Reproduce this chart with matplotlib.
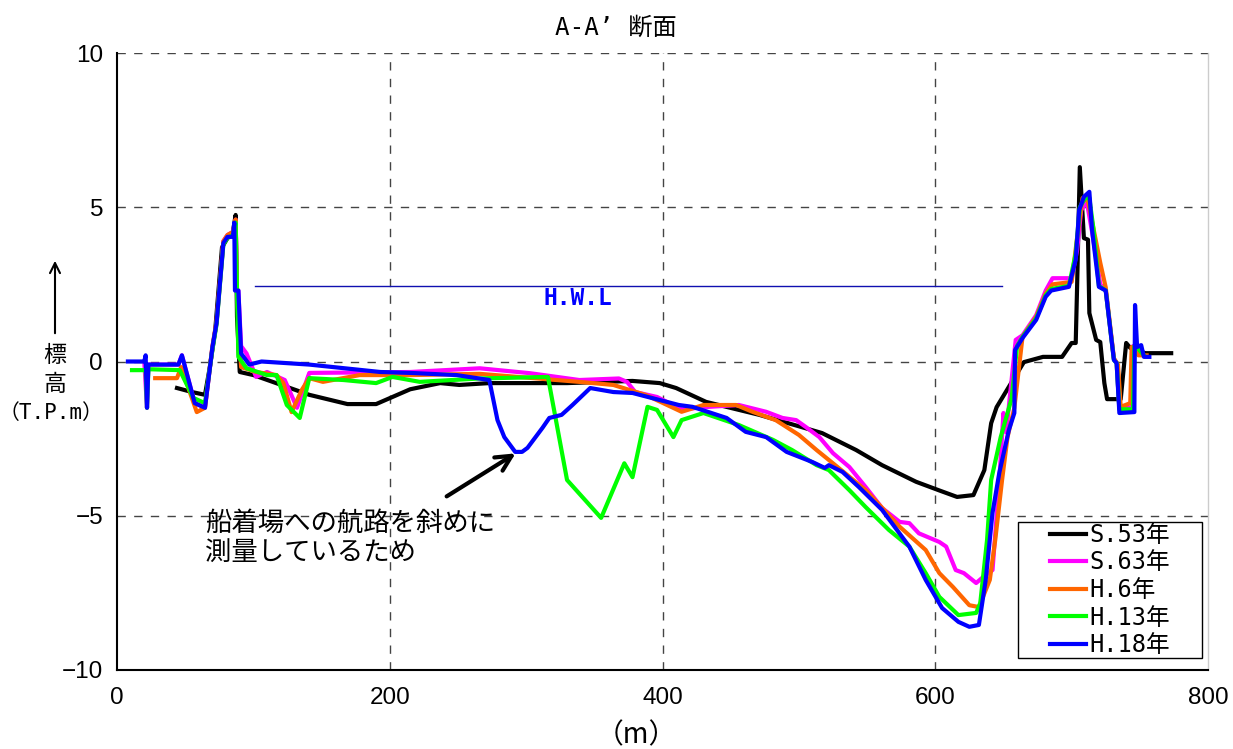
#!/usr/bin/env python3
# -*- coding: utf-8 -*-

import matplotlib
matplotlib.use("Agg")
import matplotlib.pyplot as plt
from matplotlib.patches import Rectangle, FancyArrowPatch

###############################################################################
# Data (distance [m], elevation [T.P.m])
###############################################################################

x_s53 = [44, 55, 64.5, 68, 72, 77, 81, 85, 87, 88, 90, 100, 141, 169, 190, 215, 237, 251, 273, 330,
         378, 398, 410, 432, 471, 500, 517, 542, 561, 586, 603, 616, 628, 636, 641, 645, 657, 665, 679, 693,
         700, 703, 704, 706, 709, 712, 713, 718, 721, 724, 726, 736, 740, 743, 754, 773]
y_s53 = [-0.86, -0.99, -1.08, -0.2, 1.0, 3.7, 4.0, 4.2, 4.75, 1.45, -0.34, -0.44, -1.08, -1.38, -1.38, -0.9, -0.7, -0.76, -0.7, -0.7,
         -0.63, -0.7, -0.86, -1.31, -1.73, -2.1, -2.32, -2.87, -3.36, -3.9, -4.18, -4.39, -4.33, -3.52, -2.0, -1.48, -0.6, -0.02, 0.15, 0.15,
         0.6, 0.6, 2.4, 6.3, 4.0, 3.95, 1.57, 0.7, 0.63, -0.7, -1.22, -1.22, 0.6, 0.44, 0.27, 0.27]

x_s63 = [20, 22, 23, 45, 47.6, 57, 64.5, 70, 73, 78, 81, 85, 87, 88, 89, 91, 95, 102, 110, 123,
         132, 141, 215, 266, 303, 339, 368, 374, 380, 396, 414, 434, 456, 476, 488, 498, 505, 515, 525, 537,
         549, 561, 574, 581, 588, 603, 608, 615, 621, 630, 635, 642, 647, 650, 652, 659, 664, 674, 681, 686,
         700, 704, 707, 711, 715, 721, 725, 731, 733, 735, 744, 745, 748, 753]
y_s63 = [0, -1.5, -0.1, -0.1, 0.2, -1.35, -1.5, 0.47, 1.25, 3.9, 4.1, 4.2, 4.6, 2.3, 2.3, 0.5, 0.26, -0.5, -0.34, -0.6,
         -1.5, -0.37, -0.34, -0.22, -0.38, -0.6, -0.55, -0.66, -0.99, -1.15, -1.55, -1.47, -1.41, -1.63, -1.83, -1.9, -2.12, -2.45, -2.97, -3.42,
         -4.07, -4.75, -5.2, -5.24, -5.57, -5.85, -6.0, -6.76, -6.86, -7.18, -6.99, -6.76, -3.84, -1.67, -2.3, 0.7, 0.85, 1.5, 2.3, 2.7,
         2.7, 3.6, 4.9, 5.2, 4.2, 2.5, 2.3, 0.1, -0.05, -1.5, -1.5, 0.5, 0.4, 0.2]

x_h6 = [28, 44, 47, 58.5, 64.5, 70, 73, 78, 81, 85, 87, 88, 91, 102, 117, 122, 128, 135.5, 141, 151,
        178, 215, 266, 339, 364, 388, 414, 430, 454, 466, 483, 500, 513, 525, 549, 574, 593, 603, 613, 625,
        632, 640, 644, 649, 653, 658, 664, 674, 681, 686, 700, 704, 708, 712, 721, 725, 731, 734, 736, 743,
        744, 749, 755]
y_h6 = [-0.54, -0.54, -0.18, -1.64, -1.5, 0.5, 1.3, 3.9, 4.1, 4.2, 4.6, 2.25, -0.18, -0.34, -0.44, -0.7, -1.64, -0.92, -0.54, -0.66,
        -0.44, -0.44, -0.4, -0.66, -0.76, -1.09, -1.63, -1.41, -1.41, -1.63, -1.9, -2.38, -2.87, -3.3, -4.17, -5.36, -6.11, -6.86, -7.31, -7.9,
        -7.96, -7.08, -5.78, -3.84, -2.45, -1.5, 0.8, 1.45, 2.2, 2.5, 2.58, 4.0, 5.3, 5.2, 3.2, 2.4, 0.1, -0.1, -1.47, -1.35,
        0.47, 0.2, 0.2]

x_h13 = [11, 21, 22, 23, 46, 56, 64.5, 70, 73, 78, 81, 85, 87, 88, 89, 95, 110, 117, 124.5, 134,
         141, 166, 190, 202, 222, 266, 316, 330, 355, 372, 378, 389, 396, 408, 414, 430, 456, 481, 495, 513,
         522, 537, 549, 566, 581, 593, 603, 617, 630, 633, 638, 641, 648, 656, 660, 664, 674, 681, 685, 698,
         703, 706, 710, 713, 716, 720, 725, 731, 733, 735, 745, 746, 748, 753]
y_h13 = [-0.28, -0.28, -1.5, -0.25, -0.28, -1.18, -1.35, 0.4, 1.2, 3.8, 4.0, 4.1, 4.5, 2.3, 0.15, -0.22, -0.44, -0.44, -1.41, -1.83,
         -0.54, -0.6, -0.7, -0.5, -0.66, -0.55, -0.5, -3.84, -5.07, -3.3, -3.75, -1.47, -1.57, -2.45, -1.9, -1.67, -2.06, -2.54, -2.87, -3.36,
         -3.52, -4.17, -4.72, -5.46, -6.0, -6.86, -7.63, -8.22, -8.15, -7.83, -5.78, -3.84, -2.45, -1.2, 0.5, 0.8, 1.4, 2.15, 2.35, 2.45,
         3.5, 5.0, 5.3, 5.3, 4.3, 2.45, 2.3, 0.05, -0.05, -1.55, -1.55, 0.5, 0.45, 0.2]

x_h18 = [8, 20, 21, 22, 23, 45, 47.6, 57, 64.5, 70, 73, 78, 81, 85, 86, 86.5, 89, 91, 97, 106,
         141, 193, 215, 249, 273, 279, 284, 292, 297, 301, 312, 317, 326, 334, 347, 364, 378, 398, 412, 422,
         447, 461, 476, 491, 510, 519, 522, 532, 544, 561, 581, 593, 605, 617, 625, 632, 637, 642, 647, 654,
         658, 658.5, 664, 674, 681, 685, 698, 703, 705.5, 709, 713, 715, 720, 725, 731, 733, 735, 746, 746.5, 748,
         751, 753, 757]
y_h18 = [0, 0, 0.2, -1.5, -0.1, -0.1, 0.2, -1.35, -1.5, 0.47, 1.25, 3.84, 4.04, 4.04, 4.5, 2.3, 2.3, 0.26, -0.1, 0.0,
         -0.1, -0.34, -0.37, -0.44, -0.6, -1.9, -2.45, -2.93, -2.93, -2.8, -2.15, -1.83, -1.73, -1.41, -0.86, -0.99, -1.02, -1.25, -1.41, -1.47,
         -1.83, -2.28, -2.45, -2.93, -3.26, -3.45, -3.36, -3.58, -4.07, -4.81, -6.0, -7.08, -7.99, -8.44, -8.6, -8.54, -7.08, -4.9, -3.6, -2.22,
         -1.67, 0.37, 0.76, 1.35, 2.1, 2.3, 2.42, 3.3, 4.9, 5.34, 5.5, 4.26, 2.42, 2.3, 0.05, -0.05, -1.67, -1.64, 1.83, 0.47,
         0.53, 0.15, 0.15]

series_labels = ["S.53年", "S.63年", "H.6年", "H.13年", "H.18年"]
series_colors = ["#000000", "#ff00ff", "#ff6600", "#00ff00", "#0000ff"]

hwl_x = [101, 649]
hwl_y = 2.45

x_ticks = [0, 200, 400, 600, 800]
y_ticks = [-10, -5, 0, 5, 10]

###############################################################################
# Plot
###############################################################################

MONO_JP = ["DejaVu Sans Mono", "Noto Sans CJK JP"]
JP = ["Noto Sans CJK JP", "DejaVu Sans"]

fig = plt.figure(figsize=(12.33, 7.49), dpi=100)
ax = fig.add_axes([117 / 1233, 1 - 670 / 749, (1208 - 117) / 1233, (670 - 53) / 749])

xs = [x_s53, x_s63, x_h6, x_h13, x_h18]
ys = [y_s53, y_s63, y_h6, y_h13, y_h18]
for xv, yv, lab, col in zip(xs, ys, series_labels, series_colors):
    ax.plot(xv, yv, color=col, lw=3, label=lab, solid_joinstyle="round", zorder=3)

# H.W.L
ax.plot(hwl_x, [hwl_y, hwl_y], color="#1010b0", lw=1, zorder=2)
ax.text(338, 2.05, "H.W.L", color="#0000ff", fontsize=16.5, fontweight="bold",
        family=MONO_JP, ha="center", va="center")

# annotation
ax.annotate("", xy=(294, -2.93), xytext=(240, -4.42),
            arrowprops=dict(arrowstyle="->", lw=3, color="black", mutation_scale=28))
ax.text(64.5, -4.8, "船着場への航路を斜めに\n測量しているため", fontsize=19,
        family=JP, ha="left", va="top", linespacing=1.12, zorder=4)

ax.set_xlim(0, 800)
ax.set_ylim(-10, 10)
ax.set_xticks(x_ticks)
ax.set_yticks(y_ticks)
ax.tick_params(length=0, labelsize=17.5)
ax.tick_params(axis="x", pad=12)
ax.tick_params(axis="y", pad=10)
for lbl in ax.get_xticklabels() + ax.get_yticklabels():
    lbl.set_family("Liberation Sans")

# grid lines (dashed)
for gx in [200, 400, 600]:
    ax.axvline(gx, color="#444444", lw=1, ls=(0, (6, 6)), zorder=1)
for gy in [-5, 0, 5, 10]:
    ax.axhline(gy, color="#444444", lw=1, ls=(0, (6, 6)), zorder=1)

ax.spines["top"].set_visible(False)
ax.spines["right"].set_color("#cccccc")
ax.spines["right"].set_linewidth(1)
ax.spines["left"].set_linewidth(1.5)
ax.spines["bottom"].set_linewidth(1.5)

# legend: frame drawn separately so the box can be wider than the entries
box = Rectangle((1018 / 1233, 1 - 658 / 749), (1202 - 1018) / 1233, (658 - 522) / 749,
                transform=fig.transFigure, facecolor="white", edgecolor="black", lw=1,
                zorder=5, clip_on=False)
ax.add_patch(box)
leg = ax.legend(loc="center", bbox_to_anchor=((1110 - 117) / 1091, (670 - 590) / 617),
                prop={"family": MONO_JP, "size": 17}, handlelength=1.5, handletextpad=0.15,
                labelspacing=0.15, frameon=False, borderpad=0)
leg.set_zorder(6)

# title and axis labels
fig.text(616 / 1233, 1 - 28 / 749, "A-A’ 断面", fontsize=17.5, family=MONO_JP,
         ha="center", va="center")
fig.text(636 / 1233, 1 - 735 / 749, "（m）", fontsize=20, family=JP, ha="center", va="center")

fig.patches.append(FancyArrowPatch(
    (55 / 1233, 1 - 336 / 749), (55 / 1233, 1 - 258 / 749), transform=fig.transFigure,
    arrowstyle="->", mutation_scale=18, lw=1.5, color="black"))
fig.text(55 / 1233, 1 - 355 / 749, "標", fontsize=16.5, family=JP, ha="center", va="center")
fig.text(55 / 1233, 1 - 385 / 749, "高", fontsize=16.5, family=JP, ha="center", va="center")
fig.text(51 / 1233, 1 - 413 / 749, "（T.P.m）", fontsize=15, family=MONO_JP, ha="center", va="center")

fig.savefig("out.png", dpi=100)
